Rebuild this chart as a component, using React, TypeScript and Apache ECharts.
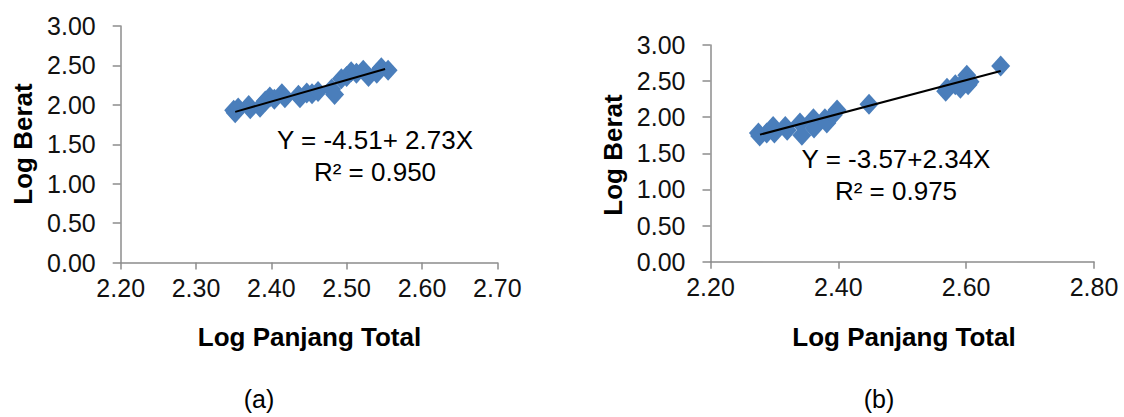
import React, { useEffect, useRef } from "react";
import * as echarts from "echarts";

// Chart (a)
const aX = [2.350, 2.352, 2.356, 2.370, 2.372, 2.385, 2.392, 2.398, 2.404, 2.414, 2.418, 2.436, 2.438, 2.447, 2.454, 2.462, 2.480, 2.484, 2.493, 2.500, 2.506, 2.513, 2.522, 2.529, 2.540, 2.546, 2.555];
const aY = [1.93, 1.90, 1.96, 1.99, 1.95, 1.97, 2.05, 2.10, 2.07, 2.14, 2.09, 2.12, 2.09, 2.15, 2.14, 2.17, 2.20, 2.13, 2.33, 2.36, 2.42, 2.40, 2.44, 2.36, 2.40, 2.47, 2.44];
const aIntercept = -4.51;
const aSlope = 2.73;
const aTrendX = [2.352, 2.551];

// Chart (b)
const bX = [2.275, 2.277, 2.288, 2.298, 2.300, 2.317, 2.320, 2.340, 2.343, 2.361, 2.362, 2.379, 2.382, 2.392, 2.398, 2.448, 2.568, 2.570, 2.583, 2.591, 2.599, 2.601, 2.606, 2.603, 2.654];
const bY = [1.78, 1.74, 1.78, 1.87, 1.78, 1.87, 1.82, 1.92, 1.75, 1.98, 1.85, 1.98, 1.92, 2.03, 2.10, 2.18, 2.36, 2.40, 2.45, 2.40, 2.52, 2.58, 2.49, 2.45, 2.71];
const bIntercept = -3.57;
const bSlope = 2.34;
const bTrendX = [2.2775, 2.654];

const yTitle = "Log Berat";
const xTitle = "Log Panjang Total";
const aEq = "Y = -4.51+ 2.73X";
const aR2 = "R² = 0.950";
const bEq = "Y = -3.57+2.34X";
const bR2 = "R² = 0.975";

const FONT = "'Liberation Sans', Arial, sans-serif";
const AXIS_COLOR = "#8c8c8c";
const BLUE = "#4a7ebb";

function xAxisCfg(gridIndex: number, min: number, max: number, interval: number) {
  return {
    type: "value",
    gridIndex,
    min,
    max,
    interval,
    splitLine: { show: false },
    axisLine: { show: true, lineStyle: { color: AXIS_COLOR, width: 1.5 } },
    axisTick: { show: true, length: 7, lineStyle: { color: AXIS_COLOR, width: 1.5 } },
    axisLabel: {
      margin: 13,
      fontSize: 25,
      fontFamily: FONT,
      color: "#111",
      formatter: (v: number) => v.toFixed(2),
    },
  };
}

function yAxisCfg(gridIndex: number) {
  return {
    type: "value",
    gridIndex,
    min: 0,
    max: 3,
    interval: 0.5,
    splitLine: { show: false },
    axisLine: { show: true, lineStyle: { color: AXIS_COLOR, width: 1.5 } },
    axisTick: { show: true, length: 8, lineStyle: { color: AXIS_COLOR, width: 1.5 } },
    axisLabel: {
      margin: 25,
      fontSize: 25,
      fontFamily: FONT,
      color: "#111",
      formatter: (v: number) => v.toFixed(2),
    },
  };
}

function txt(x: number, y: number, text: string, size: number, bold = false, rotation = 0) {
  return {
    type: "text",
    x,
    y,
    rotation,
    style: {
      text,
      fontSize: size,
      fontFamily: FONT,
      fontWeight: bold ? "bold" : "normal",
      fill: "#000",
      textAlign: "center",
      textVerticalAlign: "middle",
    },
  };
}

export default function App() {
  const ref = useRef<HTMLDivElement>(null);
  useEffect(() => {
    if (!ref.current) return;
    const chart = echarts.init(ref.current, undefined, { renderer: "svg" });
    const aPts = aX.map((x, i) => [x, aY[i]]);
    const bPts = bX.map((x, i) => [x, bY[i]]);
    const aLine = aTrendX.map((x) => [x, aIntercept + aSlope * x]);
    const bLine = bTrendX.map((x) => [x, bIntercept + bSlope * x]);
    chart.setOption({
      animation: false,
      backgroundColor: "#fff",
      grid: [
        { left: 120.7, top: 26, width: 376.6, height: 236.5 },
        { left: 710.5, top: 45, width: 383.5, height: 216.7 },
      ],
      xAxis: [xAxisCfg(0, 2.2, 2.7, 0.1), xAxisCfg(1, 2.2, 2.8, 0.2)],
      yAxis: [yAxisCfg(0), yAxisCfg(1)],
      series: [
        {
          type: "scatter",
          xAxisIndex: 0,
          yAxisIndex: 0,
          data: aPts,
          symbol: "diamond",
          symbolSize: [19, 21],
          itemStyle: { color: BLUE, opacity: 1 },
          z: 2,
        },
        {
          type: "line",
          xAxisIndex: 0,
          yAxisIndex: 0,
          data: aLine,
          showSymbol: false,
          symbol: "none",
          lineStyle: { color: "#000", width: 2 },
          z: 3,
        },
        {
          type: "scatter",
          xAxisIndex: 1,
          yAxisIndex: 1,
          data: bPts,
          symbol: "diamond",
          symbolSize: [19, 21],
          itemStyle: { color: BLUE, opacity: 1 },
          z: 2,
        },
        {
          type: "line",
          xAxisIndex: 1,
          yAxisIndex: 1,
          data: bLine,
          showSymbol: false,
          symbol: "none",
          lineStyle: { color: "#000", width: 2 },
          z: 3,
        },
      ],
      graphic: [
        txt(23, 144, yTitle, 26, true, Math.PI / 2),
        txt(613, 155, yTitle, 26, true, Math.PI / 2),
        txt(309.5, 337, xTitle, 26, true),
        txt(904, 337, xTitle, 26, true),
        txt(375, 140, aEq, 26),
        txt(375, 172, aR2, 26),
        txt(896, 159, bEq, 26),
        txt(896, 191, bR2, 26),
        txt(259, 399, "(a)", 25),
        txt(879, 399, "(b)", 25),
      ],
    });
    return () => chart.dispose();
  }, []);
  return (
    <div
      ref={ref}
      style={{ position: "fixed", left: 0, top: 0, width: 1124, height: 417 }}
    />
  );
}
